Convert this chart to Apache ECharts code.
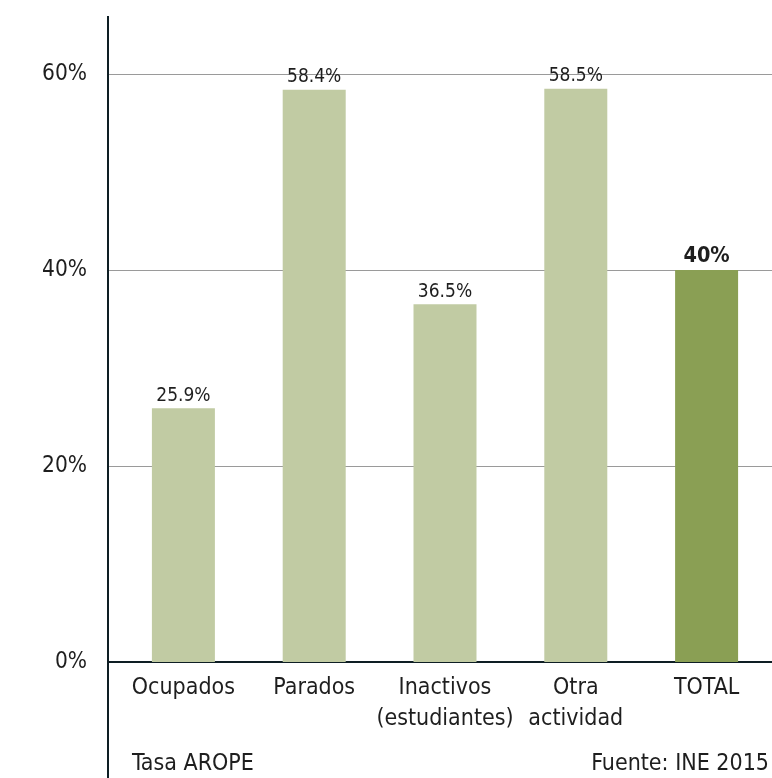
<!DOCTYPE html>
<html>
<head>
<meta charset="utf-8">
<style>
  html, body { margin: 0; padding: 0; background: #ffffff; }
  #chart { width: 772px; height: 778px; }
</style>
<script src="https://cdn.jsdelivr.net/npm/echarts@6/dist/echarts.min.js"></script>
</head>
<body>
<div id="chart"></div>
<script>
const categories = ['Ocupados', 'Parados', 'Inactivos\n(estudiantes)', 'Otra\nactividad', 'TOTAL'];
const values = [25.9, 58.4, 36.5, 58.5, 40];
const highlighted = [false, false, false, false, true];
const yTicks = [0, 20, 40, 60];
const footLeft = 'Tasa AROPE';
const footRight = 'Fuente: INE 2015';

// pick the narrowest installed sans font
const ctx = document.createElement('canvas').getContext('2d');
function measure(text, family, size, weight) {
  ctx.font = (weight || 'normal') + ' ' + size + 'px ' + family;
  return ctx.measureText(text).width;
}
function installed(f) {
  const probe = 'Ocupados (estudiantes) 58.4%';
  return measure(probe, "'" + f + "', monospace", 40) !== measure(probe, 'monospace', 40) ||
         measure(probe, "'" + f + "', serif", 40) !== measure(probe, 'serif', 40);
}
const candidates = ['Noto Sans ExtraCondensed', 'Noto Sans Condensed', 'Liberation Sans Narrow',
                    'Noto Sans SemiCondensed', 'DejaVu Sans Condensed', 'Roboto'];
let FONT = "'DejaVu Sans Condensed', sans-serif";
for (const c of candidates) {
  if (installed(c)) { FONT = "'" + c + "', sans-serif"; break; }
}
function fit(text, target, maxSize, weight) {
  const w = measure(text, FONT, 100, weight) / 100;
  return Math.min(maxSize, Math.round(target / w * 2) / 2);
}
const catSize = fit('Ocupados', 103, 26);
const valSize = fit('58.4%', 54, 22);
const totSize = fit('40%', 46, 25, 'bold');
const ySize = fit('60%', 45, 24);
const footSize = Math.min(fit(footLeft, 121, 26), fit(footRight, 185, 26));

const LIGHT = '#c1cba3';
const DARK = '#8a9f54';
const AXIS = '#0e1e24';
const TEXT = '#1e1e1e';

const chart = echarts.init(document.getElementById('chart'));

const seriesData = values.map((v, i) => ({
  value: v,
  itemStyle: { color: highlighted[i] ? DARK : LIGHT },
  label: highlighted[i] ? { fontWeight: 'bold', fontSize: totSize } : {}
}));

chart.setOption({
  animation: false,
  backgroundColor: '#ffffff',
  grid: [
    { left: 108, right: 0, top: 74, bottom: 116 },
    { left: 118, width: 662, top: 74, bottom: 116 }
  ],
  xAxis: [
    {
      type: 'value', gridIndex: 0, min: 0, max: 1,
      axisLine: { show: true, onZero: false, lineStyle: { color: AXIS, width: 2 } },
      axisTick: { show: false }, axisLabel: { show: false }, splitLine: { show: false }
    },
    {
      type: 'category', gridIndex: 1, data: categories,
      axisLine: { show: false }, axisTick: { show: false },
      axisLabel: {
        show: true, interval: 0, margin: 11,
        fontFamily: FONT, fontSize: catSize, lineHeight: 31, color: TEXT
      }
    }
  ],
  yAxis: [
    {
      type: 'value', gridIndex: 0, min: yTicks[0], max: yTicks[yTicks.length - 1], interval: 20,
      axisLine: { show: false }, axisTick: { show: false },
      axisLabel: { formatter: '{value}%', fontFamily: FONT, fontSize: ySize, color: TEXT, margin: 21 },
      splitLine: { show: true, lineStyle: { color: '#9a9a9a', width: 1 } }
    },
    {
      type: 'value', gridIndex: 1, min: 0, max: 60, show: false
    }
  ],
  series: [
    {
      type: 'bar', xAxisIndex: 1, yAxisIndex: 1,
      barWidth: 63,
      data: seriesData,
      z: 1,
      label: {
        show: true, position: 'top', distance: 3,
        formatter: p => p.value + '%',
        fontFamily: FONT, fontSize: valSize, color: TEXT
      }
    }
  ],
  graphic: [
    {
      type: 'line', z: 100,
      shape: { x1: 108, y1: 16, x2: 108, y2: 778 },
      style: { stroke: AXIS, lineWidth: 2 }
    },
    {
      type: 'text', left: 132, top: 753,
      style: { text: footLeft, fontFamily: FONT, fontSize: footSize, fill: TEXT }
    },
    {
      type: 'text', right: 3, top: 753,
      style: { text: footRight, fontFamily: FONT, fontSize: footSize, fill: TEXT }
    }
  ]
});
</script>
</body>
</html>
